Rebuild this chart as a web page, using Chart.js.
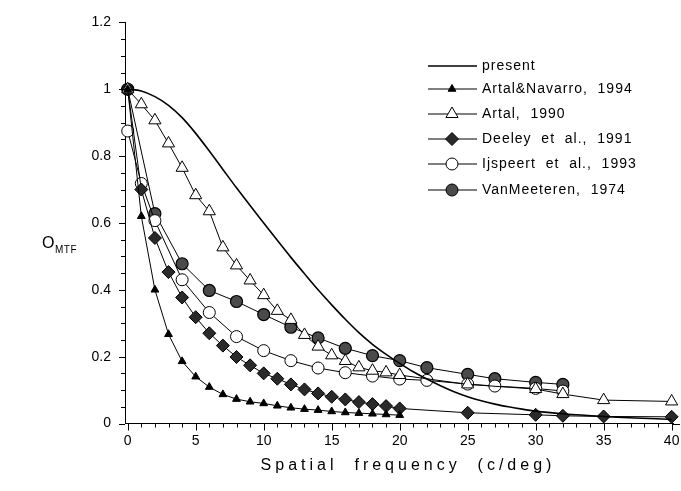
<!DOCTYPE html>
<html>
<head>
<meta charset="utf-8">
<script src="https://cdn.jsdelivr.net/npm/chart.js@4.4.1/dist/chart.umd.min.js"></script>
<style>
  body { margin: 0; background: #fff; }
  #wrap { width: 681px; height: 491px; }
</style>
</head>
<body>
<div id="wrap"><canvas id="grafica" width="681" height="491"></canvas></div>
<script>
// datos
const etiquetas = ['present', 'Artal&Navarro,  1994', 'Artal,  1990', 'Deeley  et  al.,  1991', 'Ijspeert  et  al.,  1993', 'VanMeeteren,  1974'];

const presentX = [0, 1, 2, 3, 4, 5, 6, 7, 8, 9, 10, 11, 12, 13, 14, 15, 16, 17, 18, 19, 20, 21, 22, 23, 24, 25, 26, 27, 28, 29, 30, 32, 35, 40];
const presentY = [1.0, 0.995, 0.978, 0.952, 0.915, 0.868, 0.815, 0.76, 0.705, 0.652, 0.60, 0.548, 0.497, 0.448, 0.40, 0.355, 0.312, 0.272, 0.237, 0.207, 0.18, 0.155, 0.133, 0.113, 0.095, 0.08, 0.068, 0.058, 0.05, 0.043, 0.037, 0.029, 0.021, 0.012];

const navarroX = [0, 1, 2, 3, 4, 5, 6, 7, 8, 9, 10, 11, 12, 13, 14, 15, 16, 17, 18, 19, 20];
const navarroY = [1.0, 0.62, 0.40, 0.267, 0.186, 0.14, 0.109, 0.087, 0.073, 0.065, 0.06, 0.053, 0.047, 0.043, 0.04, 0.036, 0.033, 0.031, 0.029, 0.027, 0.025];

const artalX = [0, 1, 2, 3, 4, 5, 6, 7, 8, 9, 10, 11, 12, 13, 14, 15, 16, 17, 18, 19, 20, 25, 30, 32, 35, 40];
const artalY = [1.0, 0.955, 0.907, 0.838, 0.765, 0.683, 0.635, 0.527, 0.473, 0.428, 0.384, 0.337, 0.31, 0.265, 0.23, 0.204, 0.187, 0.168, 0.158, 0.153, 0.145, 0.117, 0.103, 0.088, 0.07, 0.066];

const deeleyX = [0, 1, 2, 3, 4, 5, 6, 7, 8, 9, 10, 11, 12, 13, 14, 15, 16, 17, 18, 19, 20, 25, 30, 32, 35, 40];
const deeleyY = [1.0, 0.70, 0.555, 0.453, 0.377, 0.318, 0.27, 0.233, 0.199, 0.174, 0.15, 0.134, 0.117, 0.102, 0.09, 0.08, 0.072, 0.064, 0.058, 0.052, 0.045, 0.032, 0.026, 0.023, 0.021, 0.02];

const ijspeertX = [0, 1, 2, 4, 6, 8, 10, 12, 14, 16, 18, 20, 22, 25, 27, 30, 32];
const ijspeertY = [0.875, 0.718, 0.607, 0.43, 0.332, 0.26, 0.218, 0.188, 0.166, 0.152, 0.142, 0.133, 0.129, 0.118, 0.112, 0.105, 0.097];

const meeterenX = [0, 2, 4, 6, 8, 10, 12, 14, 16, 18, 20, 22, 25, 27, 30, 32];
const meeterenY = [1.0, 0.628, 0.478, 0.398, 0.365, 0.326, 0.288, 0.256, 0.225, 0.203, 0.188, 0.167, 0.147, 0.134, 0.123, 0.117];

const xTicks = [0, 5, 10, 15, 20, 25, 30, 35, 40];
const yTicks = [0, 0.2, 0.4, 0.6, 0.8, 1, 1.2];

function puntos(xs, ys) {
    return xs.map((x, i) => ({ x: x, y: ys[i] }));
}

const fuente = '"Liberation Sans", Arial, sans-serif';

const datasets = [
    { label: etiquetas[0], data: puntos(presentX, presentY), borderColor: '#000', borderWidth: 1.6, pointRadius: 0, cubicInterpolationMode: 'monotone' },
    { label: etiquetas[1], data: puntos(navarroX, navarroY), borderColor: '#000', borderWidth: 1, pointStyle: 'triangle', pointRadius: 4.5, backgroundColor: '#000', pointBackgroundColor: '#000', pointBorderColor: '#000', pointBorderWidth: 1 },
    { label: etiquetas[2], data: puntos(artalX, artalY), borderColor: '#000', borderWidth: 1, pointStyle: 'triangle', pointRadius: 7, backgroundColor: '#fff', pointBackgroundColor: '#fff', pointBorderColor: '#000', pointBorderWidth: 1 },
    { label: etiquetas[3], data: puntos(deeleyX, deeleyY), borderColor: '#000', borderWidth: 1, pointStyle: 'rectRot', pointRadius: 6.5, backgroundColor: '#2a2a2a', pointBackgroundColor: '#2a2a2a', pointBorderColor: '#000', pointBorderWidth: 1 },
    { label: etiquetas[4], data: puntos(ijspeertX, ijspeertY), borderColor: '#000', borderWidth: 1, pointStyle: 'circle', pointRadius: 6, backgroundColor: '#fff', pointBackgroundColor: '#fff', pointBorderColor: '#000', pointBorderWidth: 1 },
    { label: etiquetas[5], data: puntos(meeterenX, meeterenY), borderColor: '#000', borderWidth: 1, pointStyle: 'circle', pointRadius: 6, backgroundColor: '#4a4a4a', pointBackgroundColor: '#4a4a4a', pointBorderColor: '#000', pointBorderWidth: 1.2 }
];
datasets.forEach(ds => { ds.clip = false; });

// marcas menores, numeros del eje x, leyenda y titulos de ejes
const extras = {
    id: 'extras',
    afterDraw(chart) {
        const ctx = chart.ctx;
        const xs = chart.scales.x, ys = chart.scales.y;
        const area = chart.chartArea;
        ctx.save();
        ctx.strokeStyle = '#000';
        ctx.lineWidth = 1;
        ctx.beginPath();
        for (let v = 0; v <= 40; v++) {
            const px = Math.round(xs.getPixelForValue(v)) + 0.5;
            const len = v % 5 === 0 ? 7 : 4;
            ctx.moveTo(px, area.bottom);
            ctx.lineTo(px, area.bottom + len);
        }
        for (let k = 0; k <= 24; k++) {
            const py = Math.round(ys.getPixelForValue(k * 0.05)) + 0.5;
            const len = k % 4 === 0 ? 6 : 4;
            ctx.moveTo(area.left, py);
            ctx.lineTo(area.left - len, py);
        }
        // el eje x sigue unos pixeles despues del 40
        const yb = Math.round(area.bottom) + 0.5;
        ctx.moveTo(area.right - 1, yb);
        ctx.lineTo(area.right + 7, yb);
        ctx.stroke();

        ctx.fillStyle = '#000';
        ctx.font = '14px ' + fuente;
        ctx.textAlign = 'center';
        ctx.textBaseline = 'top';
        xTicks.forEach(v => {
            ctx.fillText(String(v), xs.getPixelForValue(v), area.bottom + 11);
        });

        // leyenda
        const filaY = [66, 89, 114, 139, 164, 190];
        chart.data.datasets.forEach((ds, i) => {
            const y = filaY[i];
            ctx.strokeStyle = '#000';
            ctx.lineWidth = i === 0 ? 1.4 : 1;
            ctx.beginPath();
            ctx.moveTo(428, y);
            ctx.lineTo(477, y);
            ctx.stroke();
            if (i > 0) {
                ctx.fillStyle = ds.pointBackgroundColor;
                ctx.strokeStyle = '#000';
                ctx.lineWidth = 1;
                Chart.helpers.drawPoint(ctx, { pointStyle: ds.pointStyle, radius: ds.pointRadius, rotation: 0, borderWidth: 1 }, 452, y);
            }
            ctx.fillStyle = '#000';
            ctx.font = '14px ' + fuente;
            ctx.letterSpacing = '1px';
            ctx.textAlign = 'left';
            ctx.textBaseline = 'middle';
            ctx.fillText(ds.label, 482, y);
        });

        // titulo eje x
        ctx.font = '16px ' + fuente;
        ctx.letterSpacing = '4px';
        ctx.textAlign = 'center';
        ctx.textBaseline = 'middle';
        ctx.fillText('Spatial  frequency  (c/deg)', 408, 466);

        // titulo eje y
        ctx.letterSpacing = '0px';
        ctx.textAlign = 'left';
        ctx.font = '16px ' + fuente;
        ctx.fillText('O', 42, 244);
        ctx.font = '10px ' + fuente;
        ctx.letterSpacing = '0.5px';
        ctx.fillText('MTF', 55, 250);
        ctx.restore();
    }
};

new Chart(document.getElementById('grafica'), {
    type: 'line',
    data: { datasets: datasets },
    options: {
        responsive: false,
        animation: false,
        layout: { padding: { top: 19, right: 1, left: 0, bottom: 0 } },
        plugins: { legend: { display: false }, tooltip: { enabled: false } },
        scales: {
            x: {
                type: 'linear',
                min: -0.2,
                max: 40.1,
                afterFit: (s) => { s.height = 67.5; },
                afterBuildTicks: (s) => { s.ticks = xTicks.map(v => ({ value: v })); },
                grid: { display: false, drawTicks: false },
                border: { display: true, color: '#000', width: 1 },
                ticks: { display: false }
            },
            y: {
                type: 'linear',
                min: 0,
                max: 1.2,
                afterFit: (s) => { s.width = 125; },
                afterBuildTicks: (s) => { s.ticks = yTicks.map(v => ({ value: v })); },
                grid: { display: false, drawTicks: false },
                border: { display: true, color: '#000', width: 1 },
                ticks: { color: '#000', font: { family: fuente, size: 14 }, padding: 14, callback: (v) => String(+v.toFixed(1)) }
            }
        }
    },
    plugins: [extras]
});
</script>
</body>
</html>
